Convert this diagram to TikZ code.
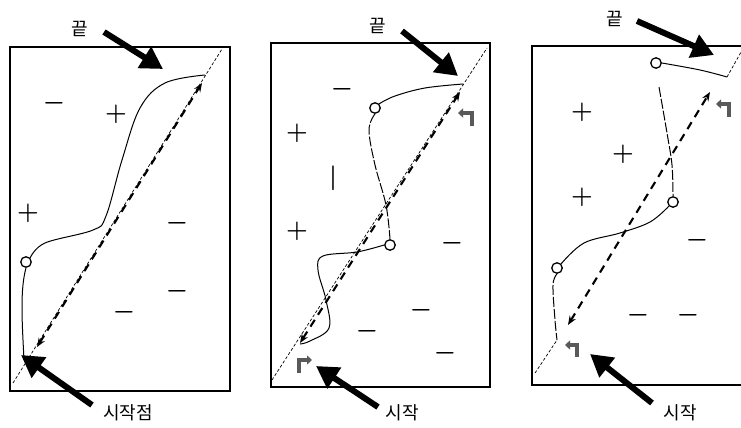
\documentclass[tikz,border=0pt]{standalone}
\usepackage{fontspec}
\newfontfamily\kr{Noto Sans CJK KR}
\usetikzlibrary{arrows.meta}
\tikzset{
  frame/.style={draw, line width=1.2pt},
  bigarrow/.style={line width=6pt, -{Triangle[length=22pt,width=24pt]}},
  diag/.style={line width=0.7pt, dash pattern=on 3pt off 2pt},
  route/.style={line width=2.1pt, dash pattern=on 8pt off 6pt, {Stealth[length=9pt,width=7pt]}-{Stealth[length=9pt,width=7pt]}},
  walk/.style={line width=1pt},
  walkdash/.style={line width=1pt, dash pattern=on 10pt off 2pt},
  stop/.style={circle, draw, line width=1.3pt, fill=white, minimum size=10.5pt, inner sep=0pt},
  sign/.style={font=\fontsize{24}{24}\selectfont\boldmath, inner sep=0pt},
  lbl/.style={font=\kr\fontsize{18}{18}\selectfont, inner sep=0pt},
  turn/.style={line width=3.6pt, black!65, -{Triangle[length=5pt,width=9pt]}}
}
\begin{document}
\begin{tikzpicture}[x=1pt,y=-1pt]
\useasboundingbox (0,0) rectangle (741,428);
% ---------------- panel 1
\draw[frame] (10,47) rectangle (230,391);
\node[lbl] (e1) at (80,29) {끝};
\node[lbl] (s1) at (128,413) {시작점};
\coordinate (e1a) at (104,32); \coordinate (e1b) at (163,69);
\draw[bigarrow] (e1a) -- (e1b);
\coordinate (s1a) at (92,405); \coordinate (s1b) at (21,355);
\draw[bigarrow] (s1a) -- (s1b);
\coordinate (d1a) at (13,383); \coordinate (d1b) at (222,49);
\draw[diag] (d1a) -- (d1b);
\coordinate (r1a) at (37,347); \coordinate (r1b) at (202,83);
\draw[route] (r1a) -- (r1b);
\node[stop] (c1) at (26,262) {};
\coordinate (p1s) at (24,360);
\draw[walk] (p1s) .. controls (22,320) and (20,290) .. (c1.south);
\draw[walk] plot[smooth, tension=0.6] coordinates {(c1.north east) (45,243) (93,230) (106,216) (122,160) (140,108) (165,83) (205,75)};
\node[sign] (m11) at (54,103) {$-$};
\node[sign] (p11) at (116,114) {$+$};
\node[sign] (p12) at (28,213) {$+$};
\node[sign] (m12) at (177,223) {$-$};
\node[sign] (m13) at (177,291) {$-$};
\node[sign] (m14) at (124,312) {$-$};
% ---------------- panel 2
\draw[frame] (271,43) rectangle (490,387);
\node[lbl] (e2) at (378,26) {끝};
\node[lbl] (s2) at (402,413) {시작};
\coordinate (e2a) at (402,31); \coordinate (e2b) at (458,76);
\draw[bigarrow] (e2a) -- (e2b);
\coordinate (s2a) at (378,407); \coordinate (s2b) at (316,366);
\draw[bigarrow] (s2a) -- (s2b);
\coordinate (d2a) at (272,380); \coordinate (d2b) at (487,48);
\draw[diag] (d2a) -- (d2b);
\coordinate (r2a) at (300,343); \coordinate (r2b) at (460,92);
\draw[route] (r2a) -- (r2b);
\node[stop] (c2a) at (375,108) {};
\node[stop] (c2b) at (390,245) {};
\draw[walk] plot[smooth, tension=0.6] coordinates {(463,84) (425,88) (395,96) (c2a.north east)};
\draw[walkdash] plot[smooth, tension=0.6] coordinates {(c2a.south) (369,130) (375,165) (386,205) (c2b.north)};
\draw[walk] plot[smooth, tension=0.6] coordinates {(c2b.west) (357,252) (323,256) (318,270) (326,300) (329,328) (310,341) (300,344)};
\node[sign] (m21) at (342,89) {$-$};
\node[sign] (p21) at (297,133) {$+$};
\node[sign] (v21) at (333,178) {$|$};
\node[sign] (p22) at (297,231) {$+$};
\node[sign] (m22) at (452,243) {$-$};
\node[sign] (m23) at (421,310) {$-$};
\node[sign] (m24) at (367,331) {$-$};
\node[sign] (m25) at (445,353) {$-$};
\coordinate (t2a) at (472,126); \coordinate (t2b) at (472,113); \coordinate (t2c) at (458,113);
\draw[turn] (t2a) -- (t2b) -- (t2c);
\coordinate (t3a) at (299,373); \coordinate (t3b) at (299,360); \coordinate (t3c) at (312,360);
\draw[turn] (t3a) -- (t3b) -- (t3c);
% ---------------- panel 3
\draw[frame] (532,46) rectangle (760,385);
\node[lbl] (e3) at (615,19) {끝};
\node[lbl] (s3) at (680,413) {시작};
\coordinate (e3a) at (637,21); \coordinate (e3b) at (714,55);
\draw[bigarrow] (e3a) -- (e3b);
\coordinate (s3a) at (652,403); \coordinate (s3b) at (590,354);
\draw[bigarrow] (s3a) -- (s3b);
\coordinate (d3a) at (535,373); \coordinate (d3b) at (557,340);
\coordinate (d3c) at (727,77); \coordinate (d3d) at (745,45);
\draw[diag] (d3a) -- (d3b);
\draw[diag] (d3c) -- (d3d);
\coordinate (r3a) at (568,325); \coordinate (r3b) at (710,92);
\draw[route] (r3a) -- (r3b);
\node[stop] (c3a) at (656,63) {};
\node[stop] (c3b) at (673,202) {};
\node[stop] (c3c) at (557,268) {};
\draw[walk] plot[smooth, tension=0.6] coordinates {(d3c) (700,70) (c3a.east)};
\draw[walkdash] plot[smooth, tension=0.6] coordinates {(659,87) (667,133) (672,165) (c3b.north)};
\draw[walk] plot[smooth, tension=0.6] coordinates {(c3b.south west) (650,222) (620,233) (584,243) (c3c.north east)};
\draw[walkdash] plot[smooth, tension=0.6] coordinates {(c3c.south) (553,285) (555,320) (d3b)};
\node[sign] (p31) at (582,112) {$+$};
\node[sign] (p32) at (623,154) {$+$};
\node[sign] (p33) at (582,197) {$+$};
\node[sign] (m31) at (697,240) {$-$};
\node[sign] (m32) at (638,315) {$-$};
\node[sign] (m33) at (688,315) {$-$};
\coordinate (t4a) at (729,117); \coordinate (t4b) at (729,104); \coordinate (t4c) at (716,104);
\draw[turn] (t4a) -- (t4b) -- (t4c);
\coordinate (t5a) at (577,357); \coordinate (t5b) at (577,345); \coordinate (t5c) at (565,345);
\draw[turn] (t5a) -- (t5b) -- (t5c);
\end{tikzpicture}
\end{document}
